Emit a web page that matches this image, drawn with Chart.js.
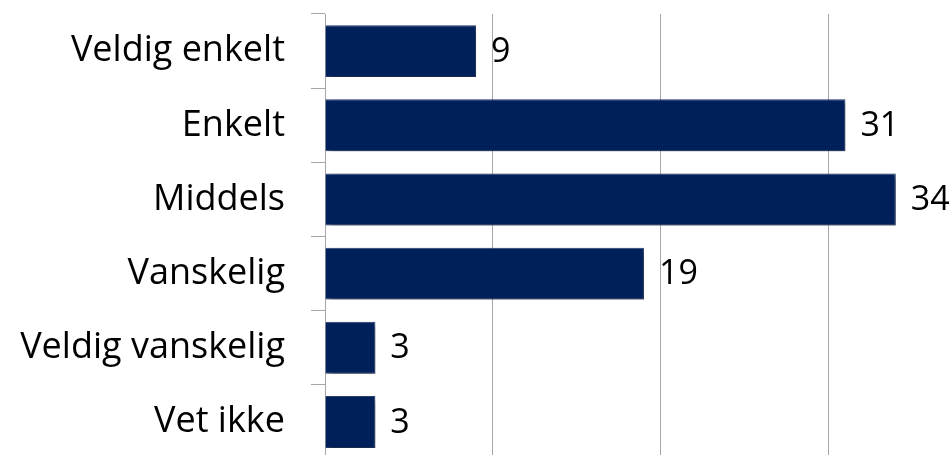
<!DOCTYPE html>
<html>
<head>
<meta charset="utf-8">
<script src="https://cdn.jsdelivr.net/npm/chart.js@4"></script>
<style>
  html, body { margin: 0; padding: 0; width: 952px; height: 455px; overflow: hidden; background: #fff; }
  #wrap { width: 952px; height: 460px; }
</style>
</head>
<body>
<div id="wrap"><canvas id="chart"></canvas></div>
<script>
var categories = ['Veldig enkelt', 'Enkelt', 'Middels', 'Vanskelig', 'Veldig vanskelig', 'Vet ikke'];
var values = [9, 31, 34, 19, 3, 3];

var labelFont = { family: 'Open Sans', size: 36 };
var valueFont = '34px "Open Sans"';

var barShadow = {
    id: 'barShadow',
    beforeDatasetsDraw: function (chart) {
        var ctx = chart.ctx;
        ctx.save();
        ctx.shadowColor = 'rgba(0,0,0,0.45)';
        ctx.shadowBlur = 6;
        ctx.shadowOffsetX = 3;
        ctx.shadowOffsetY = 3;
    },
    afterDatasetsDraw: function (chart) {
        chart.ctx.restore();
    }
};

var valueLabels = {
    id: 'valueLabels',
    afterDraw: function (chart) {
        var ctx = chart.ctx;
        var meta = chart.getDatasetMeta(0);
        ctx.save();
        ctx.fillStyle = '#000';
        ctx.font = valueFont;
        ctx.textAlign = 'left';
        ctx.textBaseline = 'middle';
        meta.data.forEach(function (bar, i) {
            ctx.fillText(values[i], bar.x + 15, bar.y + 1);
        });
        ctx.restore();
    }
};

new Chart(document.getElementById('chart'), {
    type: 'bar',
    data: {
        labels: categories,
        datasets: [{
            data: values,
            backgroundColor: '#00205c',
            borderColor: '#2c4273',
            borderWidth: 1,
            categoryPercentage: 1,
            barPercentage: 0.7
        }]
    },
    options: {
        indexAxis: 'y',
        responsive: true,
        maintainAspectRatio: false,
        animation: false,
        layout: { padding: { top: 14, right: 0, bottom: 1, left: 0 } },
        plugins: { legend: { display: false }, tooltip: { enabled: false } },
        scales: {
            x: {
                min: 0,
                max: 37.35,
                ticks: { display: false, stepSize: 10, includeBounds: false },
                grid: { color: '#a6a6a6', lineWidth: 1, drawTicks: false },
                border: { display: false },
                afterFit: function (scale) {
                    scale.height = 0;
                    scale.paddingLeft = 0;
                    scale.paddingRight = 0;
                }
            },
            y: {
                afterFit: function (scale) {
                    scale.width = 325;
                    scale.paddingTop = 0;
                    scale.paddingBottom = 0;
                },
                ticks: { color: '#000', font: labelFont, padding: 26 },
                grid: { drawOnChartArea: false, color: '#a6a6a6', tickLength: 14, offset: true },
                border: { color: '#a6a6a6' }
            }
        }
    },
    plugins: [barShadow, valueLabels]
});
</script>
</body>
</html>
